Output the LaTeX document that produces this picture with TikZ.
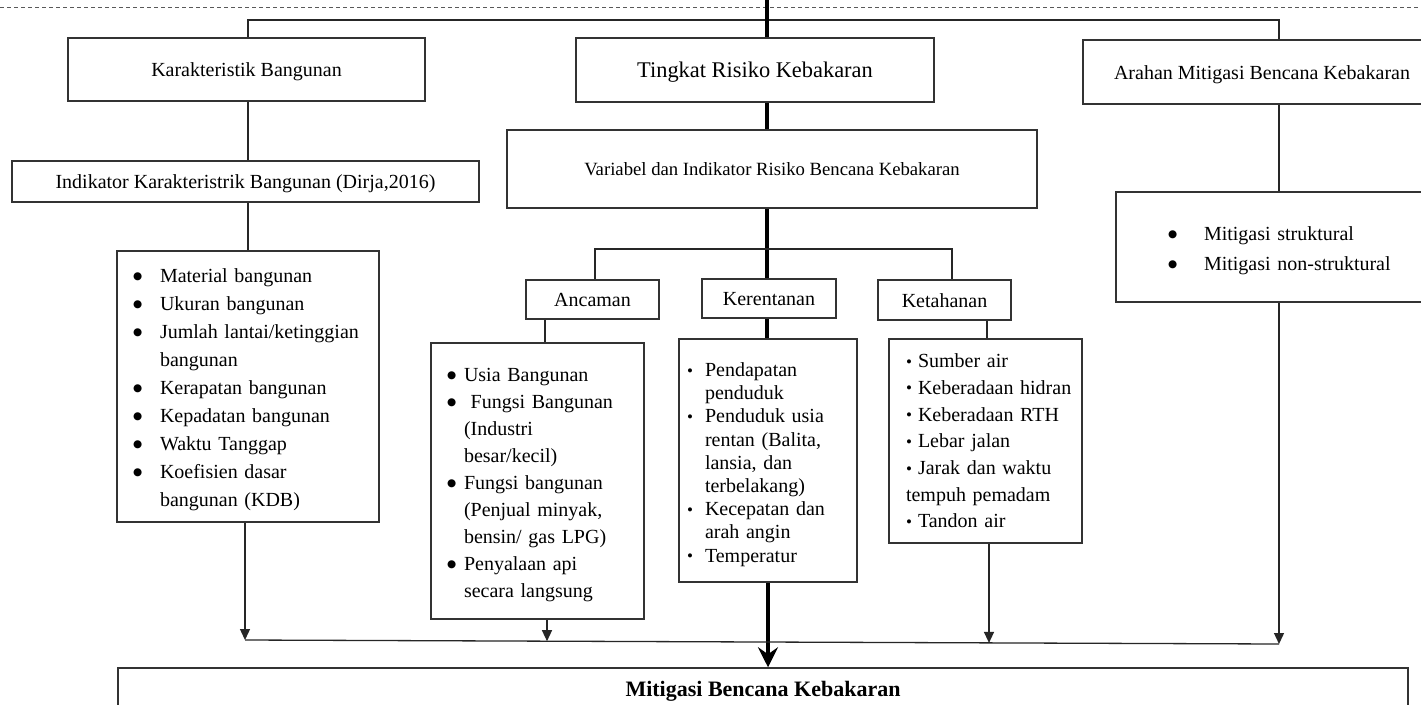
\documentclass[tikz,border=0pt]{standalone}
\usepackage{fontspec}
\setmainfont{Liberation Serif}
\newfontfamily\dvs{DejaVu Sans}
\usetikzlibrary{arrows.meta}
\newcommand\bigdot{\raisebox{3.2pt}{\dvs\fontsize{10.5}{10.5}\selectfont ●}}
\newcommand\smdot{\raisebox{0.5pt}{\fontsize{17}{17}\selectfont•}}
\newcommand\LB{\hspace*{15pt}\makebox[27pt][l]{\bigdot}}
\newcommand\LC{\hspace*{42pt}}
\newcommand\AB{\hspace*{15pt}\makebox[17pt][l]{\bigdot}}
\newcommand\AC{\hspace*{32pt}}
\newcommand\EB{\hspace*{7pt}\makebox[18pt][l]{\smdot}}
\newcommand\EC{\hspace*{25pt}}
\newcommand\TB{\hspace*{16pt}\makebox[12pt][l]{\smdot}}
\newcommand\TC{\hspace*{16pt}}
\newcommand\MB{\hspace*{51pt}\makebox[36pt][l]{\bigdot}}
\newcommand\FL[1]{\rule{0pt}{#1}}
\begin{document}
\begin{tikzpicture}[x=1pt,y=-1pt,
  box/.style={draw=black!80, line width=1.5pt, fill=white, inner sep=0pt, align=center,
    font=\fontsize{20}{24}\selectfont, text height=15pt, text depth=1pt},
  lst/.style={draw=black!80, line width=1.5pt, fill=white, inner xsep=1pt, inner ysep=0pt, align=left},
  ln/.style={line width=1.3pt, draw=black!85},
  thk/.style={line width=3.6pt, draw=black},
  arr/.style={ln, -{Triangle[width=10pt,length=11pt]}},
  bigarr/.style={thk, -{Stealth[width=20pt,length=20pt,inset=7pt]}},
]
\clip (0,0) rectangle (1421,704);
\fill[white] (0,0) rectangle (1421,704);
% dashed top line
\coordinate (d0) at (0,7);
\coordinate (d1) at (1421,7);
\draw[black!65, line width=1pt, dash pattern=on 4pt off 3pt] (d0) -- (d1);

% header boxes
\node[box, minimum width=357pt, minimum height=63pt] (k1) at (246.5,69.5) {Karakteristik Bangunan};
\node[box, minimum width=358pt, minimum height=64pt, font=\fontsize{22.4}{26}\selectfont, text height=16.5pt] (tr) at (755,70) {Tingkat Risiko Kebakaran};
\node[box, minimum width=358pt, minimum height=64pt] (ar) at (1262,72) {Arahan Mitigasi Bencana Kebakaran};
\node[box, minimum width=467pt, minimum height=41pt] (ik) at (245.5,181.5) {Indikator Karakteristrik Bangunan (Dirja,2016)};
\node[box, minimum width=530pt, minimum height=78pt, font=\fontsize{18.7}{22}\selectfont, text height=14pt] (vr) at (772,169) {Variabel dan Indikator Risiko Bencana Kebakaran};

% sub headers
\node[box, minimum width=133pt, minimum height=39pt] (an) at (592.5,299.5) {Ancaman};
\node[box, minimum width=134pt, minimum height=39pt] (ke) at (769,298.5) {Kerentanan};
\node[box, minimum width=133pt, minimum height=40pt] (kt) at (944.5,300) {Ketahanan};

% lists
\node[lst, minimum height=271pt, text width=260pt, font=\fontsize{20}{28}\selectfont] (kl) at (248,386.5) {%
\FL{20pt}\LB Material bangunan\\
\LB Ukuran bangunan\\
\LB Jumlah lantai/ketinggian\\
\LC bangunan\\
\LB Kerapatan bangunan\\
\LB Kepadatan bangunan\\
\LB Waktu Tanggap\\
\LB Koefisien dasar\\
\LC bangunan (KDB)};

\node[lst, minimum height=276pt, text width=211pt, font=\fontsize{20}{27}\selectfont] (al) at (537.5,481) {%
\FL{21pt}\AB Usia Bangunan\\
\AB \ Fungsi Bangunan\\
\AC (Industri\\
\AC besar/kecil)\\
\AB Fungsi bangunan\\
\AC (Penjual minyak,\\
\AC bensin/ gas LPG)\\
\AB Penyalaan api\\
\AC secara langsung};

\node[lst, minimum height=243pt, text width=176pt, font=\fontsize{20}{23.2}\selectfont] (el) at (768,460.5) {%
\FL{22pt}\EB Pendapatan\\
\EC penduduk\\
\EB Penduduk usia\\
\EC rentan (Balita,\\
\EC lansia, dan\\
\EC terbelakang)\\
\EB Kecepatan dan\\
\EC arah angin\\
\EB Temperatur};

\node[lst, minimum height=204pt, text width=191pt, font=\fontsize{20}{26.7}\selectfont] (tl) at (985.5,441) {%
\TB Sumber air\\
\TB Keberadaan hidran\\
\TB Keberadaan RTH\\
\TB Lebar jalan\\
\TB Jarak dan waktu\\
\TC tempuh pemadam\\
\TB Tandon air};

\node[lst, minimum height=110pt, text width=323pt, font=\fontsize{20}{30}\selectfont] (ml) at (1278.5,247) {%
\FL{22pt}\MB Mitigasi struktural\\
\MB Mitigasi non-struktural};

% bottom box
\node[box, minimum width=1290pt, minimum height=44pt, font=\bfseries\fontsize{22}{24}\selectfont, text height=16pt, text depth=3pt] (bb) at (763,690) {Mitigasi Bencana Kebakaran};

% helper coordinates
\coordinate (xc) at (767,0);
\coordinate (xd) at (768,0);
\coordinate (ta) at (248,20);
\coordinate (tm) at (1279,20);
\coordinate (xl) at (248,0);
\coordinate (br1) at (595,249);
\coordinate (br2) at (952,249);
\coordinate (xan) at (545,0);
\coordinate (xkt) at (987,0);
\coordinate (c1) at (245,640);
\coordinate (c2) at (547,641.2);
\coordinate (c3) at (989,642.9);
\coordinate (c4) at (1279,644);

% top connector
\draw[ln] (k1.north -| ta) -- (ta) -- (tm) -- (ar.north -| tm);
% central thick line
\draw[thk] (xc) -- (tr.north -| xc);
\draw[thk] (tr.south -| xc) -- (vr.north -| xc);
\draw[thk] (vr.south -| xc) -- (ke.north -| xc);
\draw[thk] (ke.south -| xc) -- (el.north -| xc);
\draw[bigarr] (el.south -| xd) -- (bb.north -| xd);
% left branch
\draw[ln] (k1.south -| xl) -- (ik.north -| xl);
\draw[ln] (ik.south -| xl) -- (kl.north -| xl);
% middle branch
\draw[ln] (an.north -| br1) -- (br1) -- (br2) -- (kt.north -| br2);
\draw[ln] (an.south -| xan) -- (al.north -| xan);
\draw[ln] (kt.south -| xkt) -- (tl.north -| xkt);
% right branch
\draw[ln] (ar.south -| tm) -- (ml.north -| tm);
% collector
\draw[ln] (c1) -- (c4);
\draw[arr] (kl.south -| c1) -- (c1);
\draw[arr] (al.south -| c2) -- (c2);
\draw[arr] (tl.south -| c3) -- (c3);
\draw[arr] (ml.south -| c4) -- (c4);
\end{tikzpicture}
\end{document}
